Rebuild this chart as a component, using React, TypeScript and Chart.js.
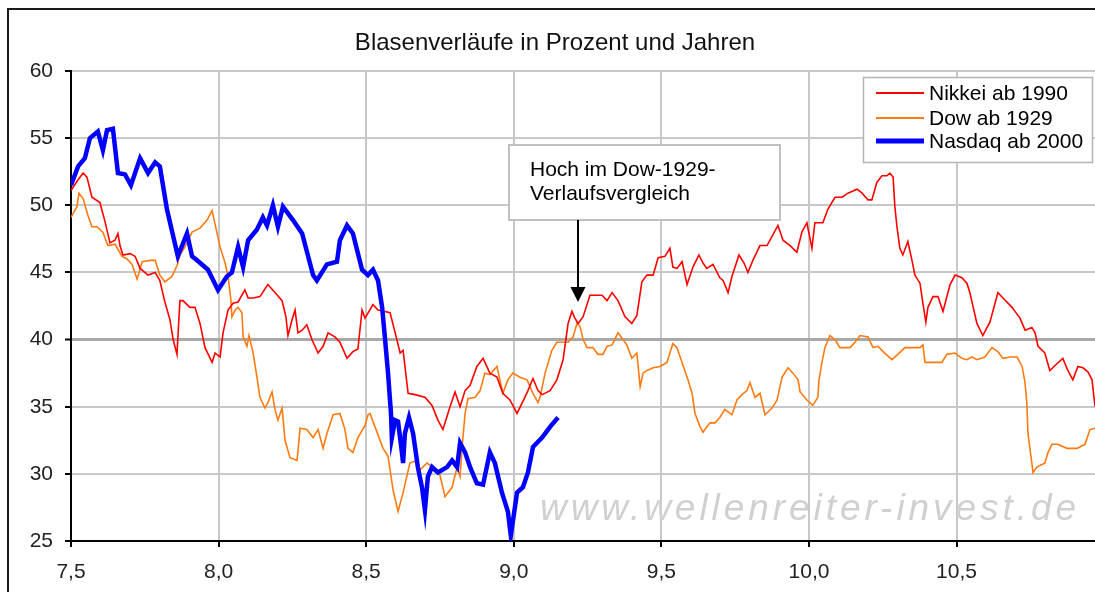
import React, { useEffect, useRef } from "react";
import { Chart, registerables } from "chart.js";

Chart.register(...registerables);

const TITLE = "Blasenverläufe in Prozent und Jahren";
const SERIES_NAMES = ["Nikkei ab 1990", "Dow ab 1929", "Nasdaq ab 2000"];
const SERIES_COLORS = ["#ff0000", "#ff7a10", "#0000ff"];
const ANNOTATION_LINES = ["Hoch im Dow-1929-", "Verlaufsvergleich"];
const WATERMARK = "www.wellenreiter-invest.de";
const X_MIN = 7.5;
const X_MAX = 10.969;
const Y_MIN = 25;
const Y_MAX = 60;
const ARROW_X = 9.218;
const ARROW_Y = 42.8;

const nikkeiX = [
  7.5, 7.524, 7.541, 7.554, 7.571, 7.598, 7.615, 7.632, 7.649, 7.659,
  7.666, 7.676, 7.7, 7.717, 7.734, 7.761, 7.785, 7.801, 7.818, 7.835,
  7.846, 7.859, 7.869, 7.879, 7.903, 7.92, 7.937, 7.954, 7.978, 7.988,
  8.005, 8.015, 8.032, 8.049, 8.066, 8.089, 8.1, 8.117, 8.14, 8.167,
  8.191, 8.215, 8.228, 8.235, 8.249, 8.259, 8.269, 8.283, 8.299, 8.316,
  8.337, 8.354, 8.371, 8.394, 8.411, 8.435, 8.455, 8.472, 8.486, 8.496,
  8.523, 8.54, 8.581, 8.604, 8.615, 8.625, 8.642, 8.665, 8.699, 8.723,
  8.743, 8.76, 8.784, 8.801, 8.818, 8.835, 8.852, 8.875, 8.896, 8.919,
  8.943, 8.963, 8.987, 9.011, 9.031, 9.048, 9.065, 9.082, 9.096, 9.123,
  9.146, 9.167, 9.184, 9.197, 9.207, 9.218, 9.235, 9.258, 9.299, 9.316,
  9.333, 9.353, 9.377, 9.4, 9.417, 9.434, 9.451, 9.472, 9.489, 9.512,
  9.529, 9.539, 9.553, 9.57, 9.587, 9.607, 9.627, 9.641, 9.654, 9.675,
  9.698, 9.709, 9.726, 9.739, 9.763, 9.78, 9.793, 9.81, 9.834, 9.858,
  9.868, 9.895, 9.912, 9.936, 9.959, 9.976, 9.993, 10.01, 10.02, 10.047,
  10.064, 10.088, 10.112, 10.132, 10.163, 10.18, 10.2, 10.213, 10.23, 10.247,
  10.264, 10.274, 10.285, 10.291, 10.298, 10.308, 10.318, 10.335, 10.349, 10.359,
  10.376, 10.386, 10.396, 10.403, 10.42, 10.437, 10.454, 10.478, 10.495, 10.518,
  10.535, 10.545, 10.569, 10.589, 10.613, 10.64, 10.657, 10.688, 10.698, 10.715,
  10.732, 10.755, 10.766, 10.776, 10.799, 10.816, 10.84, 10.86, 10.877, 10.894,
  10.911, 10.928, 10.945, 10.959, 10.969,
];
const nikkeiY = [
  51.1, 51.9, 52.4, 52.1, 50.6, 50.2, 48.8, 47.2, 47.4, 47.9,
  47.0, 46.3, 46.4, 46.2, 45.3, 44.8, 45.0, 44.4, 42.8, 41.5,
  40.0, 38.9, 42.9, 42.9, 42.4, 42.4, 41.2, 39.4, 38.3, 39.0,
  38.7, 40.5, 42.2, 42.7, 42.8, 43.7, 43.1, 43.1, 43.2, 44.1,
  43.5, 42.9, 41.7, 40.3, 41.5, 42.2, 40.5, 40.7, 41.1, 40.0,
  39.0, 39.5, 40.5, 40.2, 39.8, 38.6, 39.1, 39.3, 42.2, 41.6,
  42.6, 42.2, 42.0, 40.0, 39.0, 39.2, 36.0, 35.9, 35.7, 35.1,
  34.0, 33.3, 35.0, 36.1, 35.0, 36.2, 36.6, 38.0, 38.6, 37.5,
  37.2, 36.0, 35.5, 34.5, 35.4, 36.2, 37.1, 36.2, 35.9, 36.2,
  37.0, 38.5, 41.2, 42.1, 41.6, 41.2, 41.7, 43.3, 43.3, 42.9,
  43.5, 42.9, 41.7, 41.2, 41.8, 44.3, 44.8, 44.8, 46.1, 46.2,
  46.8, 45.4, 45.3, 45.8, 44.1, 45.4, 46.3, 45.7, 45.3, 45.6,
  44.6, 44.4, 43.5, 44.7, 46.3, 45.7, 45.0, 45.9, 47.0, 47.0,
  47.4, 48.5, 47.4, 47.0, 46.5, 48.0, 48.7, 46.8, 48.7, 48.7,
  49.7, 50.6, 50.6, 50.9, 51.2, 50.9, 50.4, 50.4, 51.7, 52.2,
  52.2, 52.4, 52.1, 49.9, 48.4, 46.8, 46.3, 47.3, 45.9, 44.8,
  44.2, 42.7, 41.3, 42.4, 43.2, 43.2, 42.1, 44.1, 44.8, 44.6,
  44.2, 43.5, 41.2, 40.3, 41.3, 43.5, 43.1, 42.4, 42.1, 41.6,
  40.7, 40.9, 40.5, 39.5, 39.0, 37.7, 38.2, 38.6, 37.7, 37.0,
  38.0, 37.9, 37.6, 37.0, 35.0,
];

const dowX = [
  7.5, 7.52, 7.527, 7.541, 7.558, 7.571, 7.588, 7.608, 7.625, 7.649,
  7.673, 7.69, 7.707, 7.724, 7.741, 7.768, 7.785, 7.801, 7.818, 7.842,
  7.859, 7.869, 7.886, 7.91, 7.937, 7.961, 7.978, 7.988, 8.005, 8.022,
  8.032, 8.042, 8.045, 8.056, 8.066, 8.079, 8.083, 8.096, 8.103, 8.117,
  8.13, 8.14, 8.157, 8.167, 8.181, 8.191, 8.201, 8.215, 8.225, 8.242,
  8.266, 8.276, 8.299, 8.32, 8.337, 8.354, 8.367, 8.388, 8.411, 8.428,
  8.438, 8.455, 8.472, 8.496, 8.506, 8.513, 8.53, 8.557, 8.574, 8.591,
  8.608, 8.625, 8.648, 8.672, 8.682, 8.706, 8.726, 8.75, 8.767, 8.791,
  8.808, 8.818, 8.825, 8.835, 8.845, 8.869, 8.886, 8.902, 8.919, 8.943,
  8.953, 8.963, 8.98, 8.997, 9.021, 9.045, 9.065, 9.082, 9.089, 9.106,
  9.129, 9.146, 9.167, 9.184, 9.201, 9.214, 9.224, 9.235, 9.248, 9.268,
  9.285, 9.302, 9.316, 9.333, 9.353, 9.37, 9.383, 9.4, 9.417, 9.428,
  9.438, 9.451, 9.472, 9.495, 9.519, 9.539, 9.553, 9.57, 9.59, 9.604,
  9.614, 9.631, 9.641, 9.654, 9.665, 9.682, 9.698, 9.715, 9.739, 9.756,
  9.773, 9.79, 9.8, 9.817, 9.834, 9.851, 9.875, 9.892, 9.909, 9.929,
  9.946, 9.963, 9.97, 9.993, 10.013, 10.03, 10.034, 10.044, 10.054, 10.071,
  10.088, 10.105, 10.139, 10.156, 10.173, 10.2, 10.217, 10.234, 10.251, 10.281,
  10.301, 10.325, 10.376, 10.386, 10.393, 10.42, 10.45, 10.467, 10.495, 10.518,
  10.535, 10.552, 10.569, 10.596, 10.62, 10.64, 10.657, 10.681, 10.705, 10.722,
  10.732, 10.738, 10.742, 10.755, 10.759, 10.772, 10.789, 10.799, 10.81, 10.823,
  10.843, 10.874, 10.908, 10.935, 10.952, 10.969,
];
const dowY = [
  49.1, 49.9, 50.9, 50.5, 49.2, 48.4, 48.4, 48.0, 47.0, 47.1,
  46.2, 46.0, 45.6, 44.5, 45.8, 45.9, 45.9, 44.8, 44.3, 44.7,
  45.5, 46.3, 46.9, 48.0, 48.3, 48.9, 49.6, 48.6, 46.9, 45.7,
  44.7, 42.9, 41.7, 42.2, 42.4, 42.0, 40.2, 39.5, 40.3, 39.0,
  37.2, 35.7, 34.9, 35.3, 36.1, 34.8, 34.0, 34.9, 32.5, 31.2,
  31.0, 33.4, 33.3, 32.7, 33.3, 31.9, 33.0, 34.4, 34.5, 33.3,
  31.9, 31.6, 32.7, 33.6, 34.4, 34.5, 33.5, 31.9, 31.3, 28.8,
  27.2, 28.6, 30.8, 31.0, 30.3, 30.8, 30.5, 29.9, 28.3, 29.0,
  30.5, 29.8, 32.0, 34.5, 35.6, 35.7, 36.2, 37.5, 37.4, 38.0,
  37.0, 36.0, 37.0, 37.5, 37.2, 37.0, 36.0, 35.3, 35.7, 37.5,
  39.2, 39.8, 39.8, 39.8, 40.2, 41.2, 41.0, 40.0, 39.4, 39.4,
  38.9, 38.9, 39.5, 39.6, 40.5, 40.0, 39.6, 38.6, 39.0, 36.5,
  37.5, 37.7, 37.9, 38.0, 38.3, 39.7, 39.4, 38.3, 37.0, 36.0,
  34.5, 33.5, 33.1, 33.5, 33.8, 33.8, 34.2, 34.8, 34.4, 35.5,
  35.9, 36.2, 36.8, 35.7, 36.0, 34.4, 34.9, 35.5, 37.2, 37.9,
  37.5, 37.0, 36.1, 35.5, 35.1, 35.7, 37.0, 38.3, 39.4, 40.3,
  40.0, 39.4, 39.4, 39.8, 40.3, 40.2, 39.4, 39.5, 39.1, 38.5,
  38.9, 39.4, 39.4, 39.6, 38.3, 38.3, 38.3, 38.9, 39.0, 38.6,
  38.5, 38.7, 38.5, 38.7, 39.4, 39.1, 38.6, 38.7, 38.7, 38.0,
  36.8, 35.3, 33.0, 30.8, 30.1, 30.5, 30.7, 30.8, 31.6, 32.2,
  32.2, 31.9, 31.9, 32.2, 33.3, 33.4,
];

const nasdaqX = [
  7.5, 7.524, 7.547, 7.564, 7.591, 7.608, 7.622, 7.642, 7.659, 7.683,
  7.703, 7.734, 7.744, 7.761, 7.785, 7.801, 7.825, 7.862, 7.893, 7.91,
  7.927, 7.964, 7.998, 8.028, 8.045, 8.066, 8.083, 8.1, 8.13, 8.15,
  8.164, 8.184, 8.201, 8.218, 8.252, 8.283, 8.32, 8.333, 8.367, 8.401,
  8.411, 8.435, 8.455, 8.486, 8.506, 8.523, 8.54, 8.554, 8.564, 8.574,
  8.584, 8.587, 8.598, 8.608, 8.621, 8.625, 8.631, 8.645, 8.659, 8.675,
  8.689, 8.699, 8.709, 8.723, 8.743, 8.774, 8.791, 8.808, 8.818, 8.835,
  8.852, 8.875, 8.896, 8.919, 8.936, 8.96, 8.98, 8.99, 9.011, 9.031,
  9.048, 9.065, 9.096, 9.123, 9.15,
];
const nasdaqY = [
  51.5, 52.9, 53.5, 55.0, 55.5, 54.1, 55.6, 55.7, 52.4, 52.3,
  51.5, 53.5, 53.1, 52.4, 53.2, 52.9, 49.7, 46.2, 47.9, 46.2,
  45.9, 45.2, 43.7, 44.7, 45.0, 46.9, 45.4, 47.4, 48.2, 49.1,
  48.5, 50.0, 48.4, 49.9, 48.9, 47.9, 44.8, 44.4, 45.6, 45.8,
  47.4, 48.5, 47.9, 45.2, 44.8, 45.2, 44.4, 42.4, 40.0, 37.5,
  34.5, 32.7, 34.0, 33.9, 31.6, 30.8, 33.0, 34.2, 33.0, 30.5,
  29.0, 27.3, 29.8, 30.5, 30.1, 30.5, 31.0, 30.5, 32.3, 31.6,
  30.5, 29.3, 29.2, 31.6, 30.8, 28.6, 27.2, 25.4, 28.6, 29.0,
  30.1, 32.0, 32.7, 33.5, 34.2,
];

const FONT = '"Liberation Sans", Arial, sans-serif';

const toPoints = (xs: number[], ys: number[]) => xs.map((x, i) => ({ x, y: ys[i] }));

const decorPlugin = {
  id: "decor",
  beforeDatasetsDraw(chart: any) {
    const { ctx, chartArea } = chart;
    ctx.save();
    ctx.beginPath();
    ctx.rect(chartArea.left, chartArea.top, chartArea.right - chartArea.left, chartArea.bottom - chartArea.top);
    ctx.clip();
    ctx.font = `italic 37px ${FONT}`;
    ctx.fillStyle = "#d0d0d0";
    ctx.textAlign = "left";
    ctx.textBaseline = "alphabetic";
    const w = ctx.measureText(WATERMARK).width;
    const spacing = Math.max(0, (536 - w) / (WATERMARK.length - 1));
    (ctx as any).letterSpacing = `${spacing.toFixed(2)}px`;
    ctx.fillText(WATERMARK, 540, 520);
    ctx.restore();
  },
  afterDraw(chart: any) {
    const { ctx } = chart;
    const xs = chart.scales.x;
    const ys = chart.scales.y;
    ctx.save();

    // outer frame (cropped at right/bottom)
    ctx.fillStyle = "#1a1a1a";
    ctx.fillRect(7, 8, 2, 592 - 8);
    ctx.fillRect(7, 8, 1095 - 7, 2);

    // title
    ctx.fillStyle = "#111";
    ctx.font = `24px ${FONT}`;
    ctx.textAlign = "center";
    ctx.textBaseline = "alphabetic";
    ctx.fillText(TITLE, 555, 50);

    // legend
    const lx = 863, ly = 77, lw = 229, lh = 85;
    ctx.fillStyle = "#ffffff";
    ctx.fillRect(lx, ly, lw, lh);
    ctx.strokeStyle = "#b4b4b4";
    ctx.lineWidth = 1.5;
    ctx.strokeRect(lx + 0.5, ly + 0.5, lw, lh);
    const rows = [93, 118, 141];
    const widths = [2, 2, 5];
    ctx.font = `21px ${FONT}`;
    ctx.textAlign = "left";
    ctx.textBaseline = "middle";
    SERIES_NAMES.forEach((name, i) => {
      ctx.strokeStyle = SERIES_COLORS[i];
      ctx.lineWidth = widths[i];
      ctx.beginPath();
      ctx.moveTo(876, rows[i]);
      ctx.lineTo(924, rows[i]);
      ctx.stroke();
      ctx.fillStyle = "#000";
      ctx.fillText(name, 929, rows[i] + 1);
    });

    // annotation box + arrow
    const tipX = Math.round(xs.getPixelForValue(ARROW_X));
    const tipY = Math.round(ys.getPixelForValue(ARROW_Y));
    const bx = tipX - 69, by = tipY - 157, bw = 271, bh = 75;
    ctx.fillStyle = "#ffffff";
    ctx.fillRect(bx, by, bw, bh);
    ctx.strokeStyle = "#c0c0c0";
    ctx.lineWidth = 2;
    ctx.strokeRect(bx, by, bw, bh);
    ctx.fillStyle = "#000";
    ctx.font = `21px ${FONT}`;
    ctx.textAlign = "left";
    ctx.textBaseline = "alphabetic";
    ctx.fillText(ANNOTATION_LINES[0], bx + 21, by + 31);
    ctx.fillText(ANNOTATION_LINES[1], bx + 21, by + 55);
    ctx.strokeStyle = "#000";
    ctx.lineWidth = 2;
    ctx.beginPath();
    ctx.moveTo(tipX, by + bh);
    ctx.lineTo(tipX, tipY - 12);
    ctx.stroke();
    ctx.fillStyle = "#000";
    ctx.beginPath();
    ctx.moveTo(tipX - 7.5, tipY - 15);
    ctx.lineTo(tipX + 7.5, tipY - 15);
    ctx.lineTo(tipX, tipY);
    ctx.closePath();
    ctx.fill();

    ctx.restore();
  },
};

export default function App() {
  const ref = useRef<HTMLCanvasElement | null>(null);

  useEffect(() => {
    if (!ref.current) return;
    const gridColor = (edgeValue: number) => (c: any) => {
      const v = c.tick ? c.tick.value : null;
      if (v === edgeValue) return "rgba(0,0,0,0)";
      if (v === 40) return "#a8a8a8";
      return "#c8c8c8";
    };
    const chart = new Chart(ref.current, {
      type: "line",
      data: {
        datasets: [
          {
            label: SERIES_NAMES[0],
            data: toPoints(nikkeiX, nikkeiY),
            borderColor: SERIES_COLORS[0],
            borderWidth: 1.6,
            pointRadius: 0,
            tension: 0,
            order: 1,
          },
          {
            label: SERIES_NAMES[1],
            data: toPoints(dowX, dowY),
            borderColor: SERIES_COLORS[1],
            borderWidth: 1.6,
            pointRadius: 0,
            tension: 0,
            order: 2,
          },
          {
            label: SERIES_NAMES[2],
            data: toPoints(nasdaqX, nasdaqY),
            borderColor: SERIES_COLORS[2],
            borderWidth: 4.5,
            pointRadius: 0,
            tension: 0,
            order: 0,
          },
        ],
      },
      options: {
        animation: false,
        responsive: false,
        devicePixelRatio: 1,
        layout: { padding: { top: 71, left: 0, right: 0, bottom: 0 } },
        plugins: {
          legend: { display: false },
          title: { display: false },
          tooltip: { enabled: false },
        },
        scales: {
          x: {
            type: "linear",
            min: X_MIN,
            max: X_MAX,
            afterBuildTicks: (axis: any) => {
              axis.ticks = axis.ticks.filter(
                (t: any) => Math.abs(t.value * 2 - Math.round(t.value * 2)) < 1e-6
              );
            },
            afterFit: (scale: any) => {
              scale.height = 51;
            },
            ticks: {
              stepSize: 0.5,
              autoSkip: false,
              maxRotation: 0,
              padding: 13,
              color: "#222",
              font: { family: FONT, size: 21 },
              callback: (v: any) => Number(v).toFixed(1).replace(".", ","),
            },
            grid: {
              color: gridColor(X_MIN),
              lineWidth: (c: any) => (c.tick && c.tick.value === 40 ? 3 : 2),
              tickLength: 6,
              tickColor: "#000",
              tickWidth: 2,
            },
            border: { display: true, color: "#000", width: 2 },
          },
          y: {
            type: "linear",
            min: Y_MIN,
            max: Y_MAX,
            afterFit: (scale: any) => {
              scale.width = 71;
            },
            ticks: {
              stepSize: 5,
              padding: 12,
              color: "#222",
              font: { family: FONT, size: 21 },
            },
            grid: {
              color: gridColor(Y_MIN),
              lineWidth: (c: any) => (c.tick && c.tick.value === 40 ? 3 : 2),
              tickLength: 6,
              tickColor: "#000",
              tickWidth: 2,
            },
            border: { display: true, color: "#000", width: 2 },
          },
        },
      },
      plugins: [decorPlugin],
    });
    return () => chart.destroy();
  }, []);

  return (
    <div
      style={{
        position: "fixed",
        left: 0,
        top: 0,
        width: 1095,
        height: 592,
        background: "#ffffff",
        overflow: "hidden",
      }}
    >
      <canvas ref={ref} width={1095} height={592} style={{ display: "block" }} />
    </div>
  );
}
